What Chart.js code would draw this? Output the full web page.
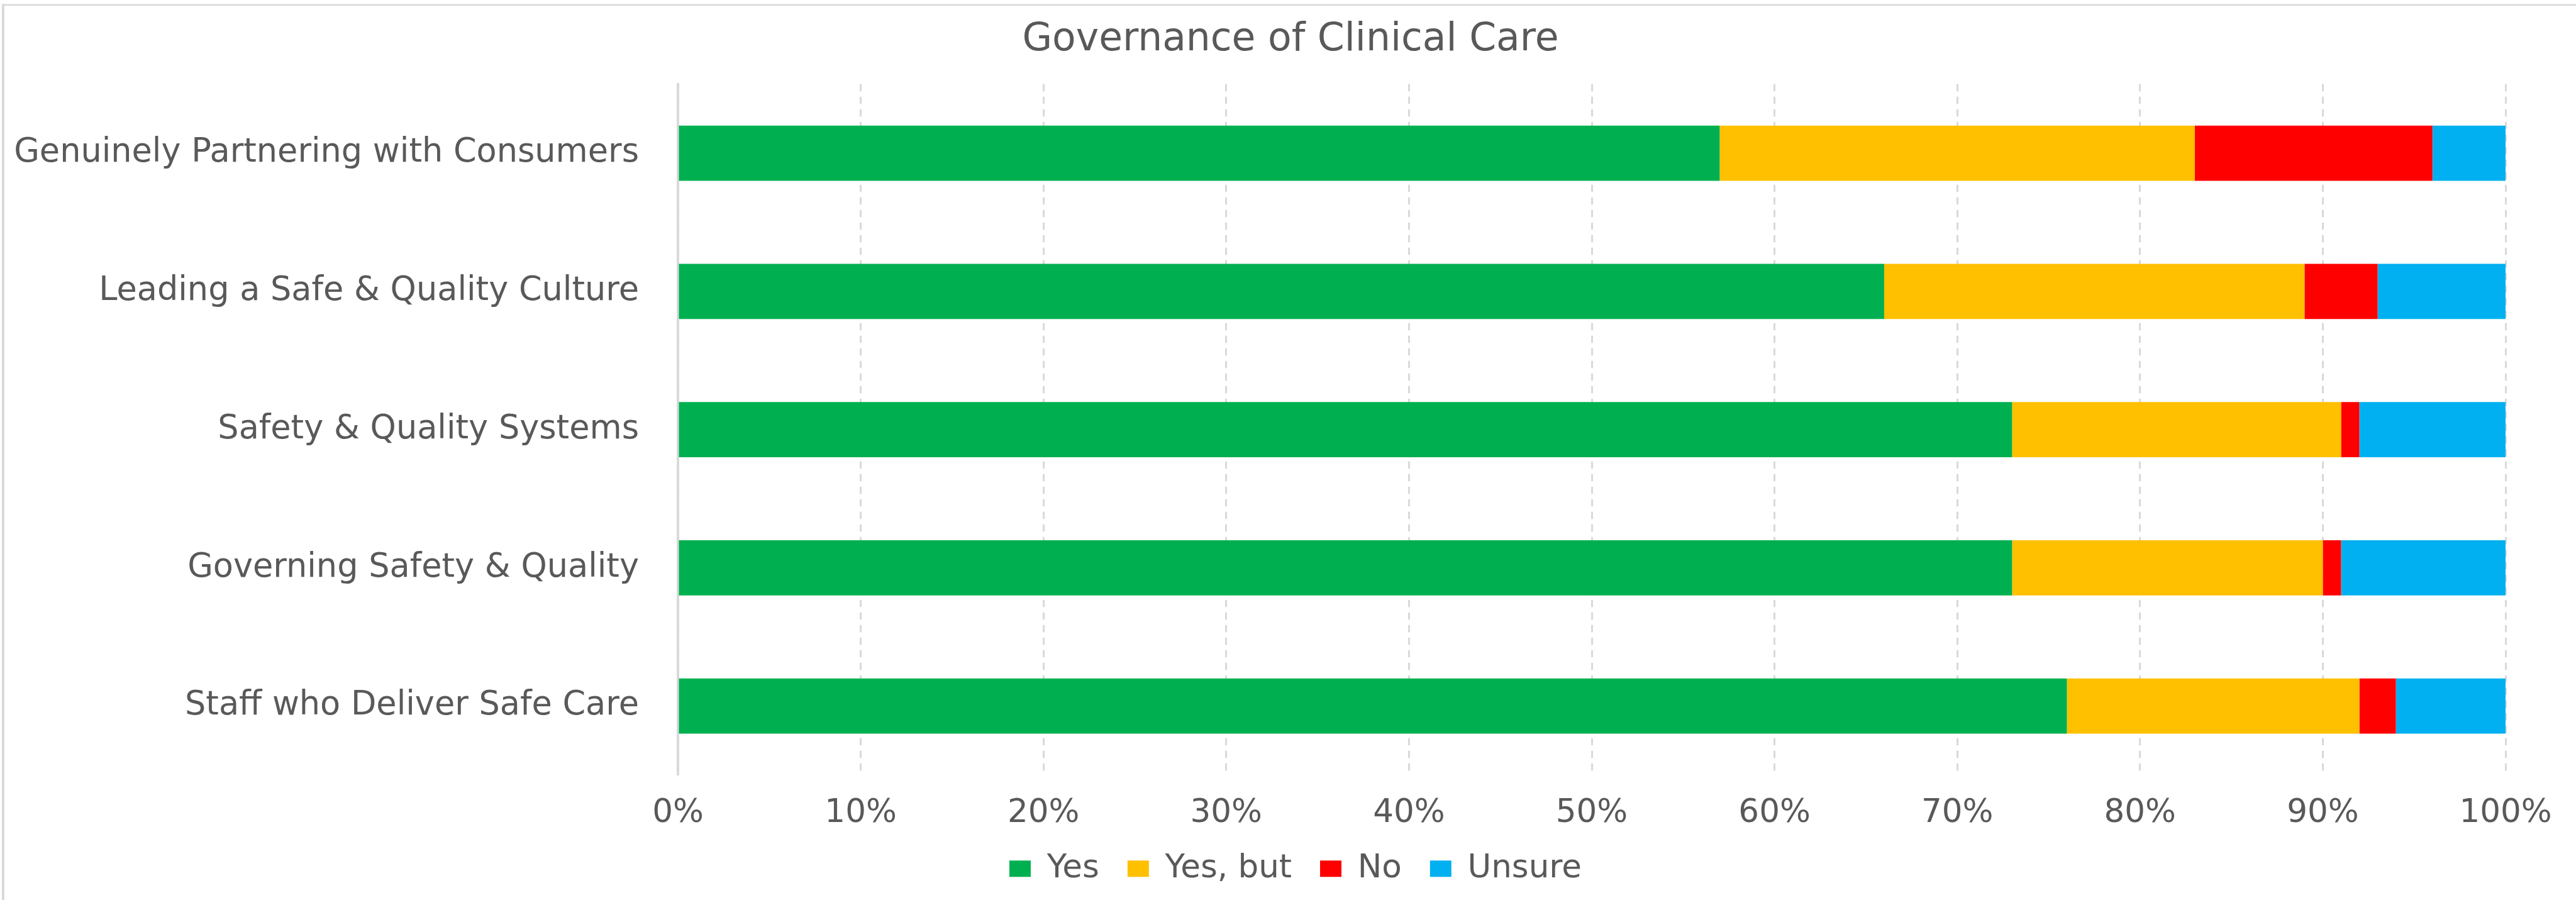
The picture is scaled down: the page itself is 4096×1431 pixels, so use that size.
<!DOCTYPE html>
<html>
<head>
<meta charset="utf-8">
<script src="https://cdn.jsdelivr.net/npm/chart.js@4.4.1/dist/chart.umd.min.js"></script>
<style>
  html, body { margin: 0; padding: 0; background: #fff; }
  canvas { display: block; }
</style>
</head>
<body>
<canvas id="govChart" width="4096" height="1431"></canvas>
<script>
// chart data
const categories = [
  "Genuinely Partnering with Consumers",
  "Leading a Safe & Quality Culture",
  "Safety & Quality Systems",
  "Governing Safety & Quality",
  "Staff who Deliver Safe Care",
];
const yesValues = [57, 66, 73, 73, 76];
const yesButValues = [26, 23, 18, 17, 16];
const noValues = [13, 4, 1, 1, 2];
const unsureValues = [4, 7, 8, 9, 6];
const seriesNames = ["Yes", "Yes, but", "No", "Unsure"];
const seriesColors = ["#00B050", "#FFC000", "#FF0000", "#00B0F0"];
const xTicks = [0, 10, 20, 30, 40, 50, 60, 70, 80, 90, 100];

const textColor = "#595959";
const fontFamily = "'DejaVu Sans', sans-serif";

// light grey frame on top and left, like the excel chart area border
const framePlugin = {
  id: "frame",
  beforeDraw(chart) {
    const ctx = chart.ctx;
    ctx.save();
    ctx.fillStyle = "#ffffff";
    ctx.fillRect(0, 0, chart.width, chart.height);
    ctx.fillStyle = "#d9d9d9";
    ctx.fillRect(3, 6.5, chart.width, 2.6);
    ctx.fillRect(3, 6.5, 3.9, chart.height);
    ctx.restore();
  },
};

// title and legend sit centred over the plot more than over the whole canvas
const centrePlugin = {
  id: "centre",
  afterLayout(chart) {
    chart.legend.left += 68;
    chart.legend.right += 68;
    chart.titleBlock.left += 60;
    chart.titleBlock.right += 60;
  },
};

const allValues = [yesValues, yesButValues, noValues, unsureValues];

const ctx = document.getElementById("govChart").getContext("2d");
new Chart(ctx, {
  type: "bar",
  data: {
    labels: categories,
    datasets: seriesNames.map((name, i) => ({
      label: name,
      data: allValues[i],
      backgroundColor: seriesColors[i],
      borderWidth: 0,
      categoryPercentage: 1,
      barPercentage: 0.4,
    })),
  },
  options: {
    indexAxis: "y",
    responsive: false,
    animation: false,
    devicePixelRatio: 1,
    layout: {
      padding: { left: 0, right: 112, top: 0, bottom: 14 },
    },
    scales: {
      x: {
        stacked: true,
        min: 0,
        max: 100,
        afterBuildTicks: (scale) => {
          scale.ticks = xTicks.map((v) => ({ value: v }));
        },
        afterFit: (scale) => {
          scale.height = 78;
        },
        grid: {
          color: "#d9d9d9",
          lineWidth: 3,
          drawTicks: false,
        },
        border: { display: false, dash: [11.5, 8.5] },
        ticks: {
          padding: 30,
          color: textColor,
          font: { family: fontFamily, size: 51.5 },
          callback: (value) => value + "%",
        },
      },
      y: {
        stacked: true,
        afterFit: (scale) => {
          scale.width = 1078;
        },
        grid: { display: false, drawTicks: false },
        border: { display: true, color: "#d9d9d9", width: 3.9 },
        ticks: {
          padding: 62,
          color: textColor,
          font: { family: fontFamily, size: 52.5 },
        },
      },
    },
    plugins: {
      title: {
        display: true,
        text: "Governance of Clinical Care",
        color: textColor,
        font: { family: fontFamily, size: 61.5, weight: "normal", lineHeight: 1.2 },
        padding: { top: 27, bottom: 33 },
      },
      legend: {
        position: "bottom",
        labels: {
          color: textColor,
          font: { family: fontFamily, size: 51.5 },
          boxWidth: 34,
          boxHeight: 26,
          padding: 45,
        },
      },
      tooltip: { enabled: false },
    },
  },
  plugins: [framePlugin, centrePlugin],
});
</script>
</body>
</html>
